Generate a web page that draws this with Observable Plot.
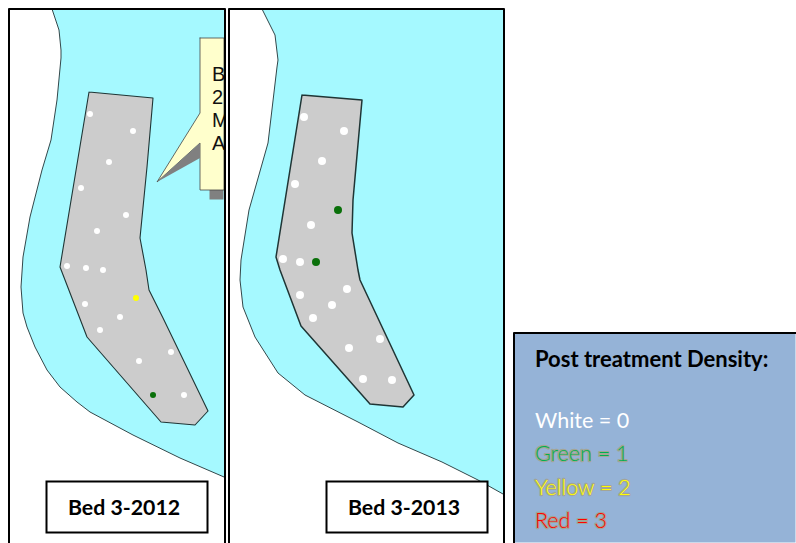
<!DOCTYPE html>
<html><head><meta charset="utf-8">
<script src="https://cdn.jsdelivr.net/npm/d3@7"></script>
<script src="https://cdn.jsdelivr.net/npm/@observablehq/plot@0.6"></script>
<style>html,body{margin:0;padding:0;background:#fff;overflow:hidden}svg{display:block}</style>
</head><body><div id="chart"></div>
<script>
// Map coordinates, [easting, southing]
const shore2012 = [[52,9],[59,30],[61,50],[61,58],[57,100],[51,140],[42,170],[30,217],[23,257],[21,287],[23,313],[27,327],[35,347],[47,370],[60,387],[77,402],[90,412],[133,435],[180,458],[224,477]];
const water2012 = [...shore2012,[224,9],[52,9]];
const bed2012 = [[89,92],[153,98],[147,167],[140,238],[146,270],[149,290],[163,318],[208,411],[195,425],[161,422],[87,337],[60,267],[89,92]];
const posts2012 = [[90,114],[133,131],[109,162],[81,188],[126,215],[97,231],[67,266],[86,268],[103,270],[85,304],[136,298],[120,317],[100,330],[171,352],[139,361],[153,395],[184,395]];
const density2012 = [0,0,0,0,0,0,0,0,0,0,2,0,0,0,0,1,0];

const shore2013 = [[262,9],[275,35],[278,60],[277,67],[268,143],[249,210],[241,260],[240,280],[243,307],[255,337],[278,373],[305,395],[358,422],[398,443],[442,462],[478,480],[503,494]];
const water2013 = [...shore2013,[503,9],[262,9]];
const bed2013 = [[302,95],[362,100],[359,133],[353,200],[352,233],[358,270],[360,280],[414,395],[403,407],[370,404],[301,326],[280,270],[276,257],[302,95]];
const posts2013 = [[304,117],[344,131],[322,161],[295,184],[338,210],[311,225],[283,259],[300,262],[316,262],[347,289],[300,295],[332,305],[313,318],[380,339],[349,348],[363,379],[392,380]];
const density2013 = [0,0,0,0,1,0,0,0,1,0,0,0,0,0,0,0,0];

const calloutShape = [[200,38],[224,38],[224,190],[200,190],[200,143],[157,182],[200,113],[200,38]];
const calloutShadow = [[200,143],[157,182],[200,158],[200,143]];
const calloutLetters = ["B","2","M","A"];
const calloutLetterY = [80.5,103.5,126.5,149.5];

const frame2012 = [[9,560],[9,9],[225,9],[225,560]];
const frame2013 = [[229,560],[229,9],[504,9],[504,560]];
const legendEdge = [[514,543],[514,333],[796,333]];
const labelBoxes = [[47,482,208,533],[327,482,488,533]];
const labelTexts = ["Bed 3-2012","Bed 3-2013"];
const labelCentres = [124,404];

const legendTitle = "Post treatment Density:";
const legendZero = "White = 0";
const legendRows = ["Green = 1","Yellow = 2","Red = 3"];
const legendRowY = [461.2,494.5,528.2];
const legendColours = ["#00b050","#ffff00","#ff0000"];

const densityLevels = [0,1,2,3];
const densityColours = ["#ffffff","#0a700a","#ffff00","#ff0000"];

const X = d => d[0], Y = d => d[1];
const poly = (pts, o) => Plot.line(pts, {x: X, y: Y, curve: "linear", ...o});
const dots = (pts, dens, r) => Plot.dot(pts.map((p,i) => ({x:p[0], y:p[1], density:dens[i]})), {x:"x", y:"y", r, fill:"density", stroke:"none"});
const font = "Lato, Carlito, sans-serif";

const plot = Plot.plot({
  width: 796, height: 543,
  marginTop: 0, marginRight: 0, marginBottom: 0, marginLeft: 0,
  style: {background: "#fff"},
  x: {domain: [0,796], range: [-0.5,795.5], axis: null},
  y: {domain: [0,543], range: [-0.5,542.5], axis: null},
  color: {type: "ordinal", domain: densityLevels, range: densityColours},
  marks: [
    poly(water2012, {fill: "#a5f9ff", stroke: "none"}),
    poly(shore2012, {stroke: "#33474a", strokeWidth: 1}),
    poly(bed2012, {fill: "#cccccc", stroke: "#1f3535", strokeWidth: 1.1}),
    dots(posts2012, density2012, 3),
    Plot.rect([[210,190,224,200]], {x1:d=>d[0], y1:d=>d[1], x2:d=>d[2], y2:d=>d[3], fill:"#808080"}),
    poly(calloutShape, {fill: "#ffffcc", stroke: "#444", strokeWidth: 0.8}),
    poly(calloutShadow, {fill: "#808080", stroke: "none"}),
    Plot.text(calloutLetters, {x: () => 212, y: (d,i) => calloutLetterY[i], text: d => d, textAnchor: "start", lineAnchor: "bottom", fontFamily: "Liberation Sans", fontSize: 20, fill: "#111"}),

    Plot.rect([[224.5,0,228.5,543]], {x1:d=>d[0], y1:d=>d[1], x2:d=>d[2], y2:d=>d[3], fill:"#fff"}),

    poly(water2013, {fill: "#a5f9ff", stroke: "none"}),
    poly(shore2013, {stroke: "#33474a", strokeWidth: 1}),
    poly(bed2013, {fill: "#cccccc", stroke: "#1f3535", strokeWidth: 1.5}),
    dots(posts2013, density2013, 4),

    poly(frame2012, {stroke: "#000", strokeWidth: 2}),
    poly(frame2013, {stroke: "#000", strokeWidth: 2}),

    Plot.rect(labelBoxes, {x1:d=>d[0], y1:d=>d[1], x2:d=>d[2], y2:d=>d[3], fill:"#fff", stroke:"#000", strokeWidth:2}),
    Plot.text(labelTexts, {x: (d,i) => labelCentres[i], y: () => 515, text: d => d, textAnchor: "middle", lineAnchor: "bottom", fontFamily: font, fontWeight: 700, fontSize: 21.3, fill: "#000"}),

    Plot.rect([[514,333,796,543]], {x1:d=>d[0], y1:d=>d[1], x2:d=>d[2], y2:d=>d[3], fill:"#95b3d7"}),
    poly(legendEdge, {stroke: "#000", strokeWidth: 2}),
    Plot.text([legendTitle], {x: () => 535, y: () => 367, text: d => d, textAnchor: "start", lineAnchor: "bottom", fontFamily: font, fontWeight: 700, fontSize: 22, fill: "#000"}),
    Plot.text([legendZero], {x: () => 535, y: () => 428, text: d => d, textAnchor: "start", lineAnchor: "bottom", fontFamily: font, fontSize: 21.5, fill: "#ffffff"}),
    Plot.text(legendRows, {x: () => 535, y: (d,i) => legendRowY[i], text: d => d, textAnchor: "start", lineAnchor: "bottom", fontFamily: font, fontWeight: 300, fontSize: 21.5, fill: (d,i) => legendColours[i], stroke: "#a3a596", strokeWidth: 2.4})
  ]
});
document.getElementById("chart").append(plot);
</script></body></html>
